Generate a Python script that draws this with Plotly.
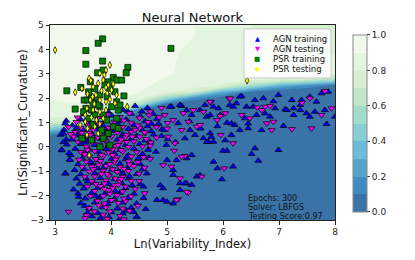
import plotly.graph_objects as go

# ---------------- data ----------------
title = "Neural Network"
x_label = "Ln(Variability_Index)"
y_label = "Ln(Significant_Curvature)"
info_lines = ["Epochs: 300", "Solver: LBFGS", "Testing Score:0.97"]
legend_names = ["AGN training", "AGN testing", "PSR training", "PSR testing"]

# decision surface (probability of PSR) read on a coarse grid
grid_x = [2.9, 3.25, 3.5, 4.0, 4.5, 5.0, 5.5, 6.0, 6.5, 7.0, 7.5, 8.0]
grid_y = [-3, 0, 0.25, 0.5, 0.75, 1.0, 1.25, 1.5, 1.75, 2.0, 2.25, 2.5, 2.75, 3.0, 3.5, 4.0, 4.5, 5.0]
grid_z = [
    [0,    0,    0,    0,    0,    0,    0,    0,    0,    0,    0,    0],
    [0,    0,    0,    0,    0,    0,    0,    0,    0,    0,    0,    0],
    [0.02, 0,    0,    0,    0,    0,    0,    0,    0,    0,    0,    0],
    [0.10, 0.05, 0.02, 0,    0,    0,    0,    0,    0,    0,    0,    0],
    [0.45, 0.30, 0.10, 0,    0,    0,    0,    0,    0,    0,    0,    0],
    [0.72, 0.65, 0.50, 0.05, 0,    0,    0,    0,    0,    0,    0,    0],
    [0.82, 0.80, 0.78, 0.30, 0.02, 0,    0,    0,    0,    0,    0,    0],
    [0.85, 0.85, 0.85, 0.75, 0.10, 0,    0,    0,    0,    0,    0,    0],
    [0.88, 0.89, 0.90, 0.88, 0.60, 0.05, 0,    0,    0,    0,    0,    0],
    [0.91, 0.92, 0.93, 0.92, 0.85, 0.50, 0.15, 0.02, 0,    0,    0,    0],
    [0.93, 0.94, 0.94, 0.94, 0.90, 0.83, 0.70, 0.30, 0.08, 0,    0,    0],
    [0.94, 0.95, 0.95, 0.95, 0.92, 0.87, 0.84, 0.78, 0.55, 0.30, 0.15, 0.05],
    [0.95, 0.96, 0.96, 0.96, 0.93, 0.89, 0.86, 0.84, 0.82, 0.78, 0.70, 0.55],
    [0.96, 0.96, 0.96, 0.96, 0.94, 0.91, 0.87, 0.85, 0.84, 0.83, 0.82, 0.80],
    [0.97, 0.97, 0.97, 0.96, 0.94, 0.91, 0.88, 0.85, 0.84, 0.83, 0.82, 0.81],
    [0.97, 0.97, 0.97, 0.96, 0.94, 0.91, 0.89, 0.85, 0.83, 0.82, 0.80, 0.79],
    [0.97, 0.97, 0.97, 0.96, 0.94, 0.92, 0.90, 0.84, 0.82, 0.79, 0.78, 0.77],
    [0.97, 0.97, 0.97, 0.96, 0.95, 0.92, 0.90, 0.83, 0.80, 0.77, 0.76, 0.75],
]

band_colors = ["#3973a8", "#3f8dc0", "#55a3cb", "#6cbcd9", "#87ced5",
               "#a4dccb", "#bfe6c6", "#d6efd1", "#e3f4df", "#f1f9ec"]

agn_train = [
    (3.52,1.33),(4.02,1.28),(4.36,1.36),(4.52,1.25),(4.22,1.51),(4.43,1.68),
    (3.20,1.07),(3.46,1.12),(3.91,1.08),(4.27,1.13),(4.61,1.05),(4.82,1.15),
    (3.31,0.88),(3.62,0.93),(3.86,0.86),(4.12,0.92),(4.41,0.89),(4.72,0.95),
    (3.14,0.58),(3.16,0.70),(3.50,0.68),(3.76,0.72),(4.06,0.66),(4.31,0.74),(4.56,0.69),(4.91,0.72),
    (3.10,0.50),(3.41,0.47),(3.66,0.53),(3.96,0.49),(4.21,0.52),(4.46,0.45),(4.76,0.51),
    (3.30,0.30),(3.56,0.27),(3.84,0.33),(4.11,0.29),(4.36,0.31),(4.61,0.26),(5.01,0.31),
    (3.21,0.10),(3.46,0.12),(3.71,0.08),(3.96,0.11),(4.26,0.07),(4.51,0.12),
    (3.12,-0.12),(3.36,-0.08),(3.61,-0.11),(3.91,-0.09),(4.16,-0.13),(4.41,-0.07),(4.66,-0.12),
    (3.28,-0.33),(3.54,-0.28),(3.81,-0.31),(4.06,-0.27),(4.31,-0.34),(4.56,-0.29),
    (3.26,-0.52),(3.49,-0.47),(3.76,-0.53),(4.01,-0.49),(4.26,-0.51),(4.49,-0.46),
    (3.41,-0.71),(3.66,-0.68),(3.91,-0.73),(4.16,-0.69),(4.39,-0.72),
    (3.52,-0.91),(3.76,-0.88),(4.02,-0.93),(4.29,-0.87),(4.56,-0.92),
    (3.19,-1.09),(3.46,-1.12),(3.71,-1.08),(3.96,-1.13),(4.21,-1.07),(4.46,-1.11),
    (3.56,-1.31),(3.81,-1.28),(4.06,-1.33),(4.31,-1.29),
    (3.44,-1.51),(3.69,-1.47),(3.96,-1.52),(4.19,-1.48),(4.52,-1.53),
    (3.51,-1.71),(3.76,-1.68),(4.01,-1.73),(4.26,-1.69),
    (3.41,-1.91),(3.66,-1.88),(3.89,-1.93),(4.16,-1.89),(4.41,-1.92),
    (3.54,-2.12),(3.79,-2.08),(4.06,-2.13),(4.31,-2.09),
    (3.46,-2.31),(3.71,-2.28),(3.94,-2.33),(4.21,-2.29),(4.46,-2.32),
    (3.61,-2.51),(3.86,-2.48),(4.11,-2.53),(4.36,-2.49),
    (3.76,-2.71),(4.01,-2.68),(4.21,-2.73),(4.40,-2.66),
    (3.81,-2.92),(3.96,-2.88),(4.16,-2.94),(4.46,-2.87),
    (3.58,1.18),(3.83,1.22),(4.13,1.05),(3.38,0.78),(3.93,0.68),(4.18,0.40),(3.53,0.18),
    (3.78,-0.20),(4.28,-0.40),(3.63,-0.62),(3.88,-0.82),(4.13,-1.00),(3.58,-1.42),
    (3.83,-1.62),(4.08,-1.82),(3.73,-2.02),(3.98,-2.22),(3.53,-2.42),(4.28,-2.62),
    (3.66,-2.85),(4.33,-1.20),(4.38,-1.58),(3.38,-1.30),(3.33,-1.75),(3.35,-0.95),
    (3.42,-2.05),(3.58,-2.70),(4.58,-2.10),(4.62,-2.55),(4.52,-0.70),(4.68,-0.45),
    (4.72,0.65),(4.55,1.45),(4.30,1.45),(4.65,1.60),(3.70,1.40),(3.95,1.45),(3.25,-0.25),
    (3.20,0.30),(3.15,0.20),
    (3.18,0.96),(3.15,0.55),(3.12,-0.14),(3.18,-1.09),(3.27,-0.54),(3.36,0.61),
    (5.08,1.65),(5.26,1.68),(5.44,1.31),(5.59,1.51),(5.71,1.24),(5.20,0.97),(5.41,0.69),
    (4.96,0.69),(5.32,0.35),(5.50,0.49),(5.77,0.56),(4.99,0.08),(5.83,1.65),(5.77,1.31),
    (5.23,1.72),(5.05,1.65),(5.68,1.72),(5.92,1.58),(6.12,1.72),(6.24,1.79),(5.83,0.21),
    (5.74,0.21),(5.65,0.35),(6.15,0.49),(6.30,0.69),(6.45,0.76),(6.21,0.90),(6.07,0.99),
    (4.75,1.35),(4.85,0.95),(4.65,0.85),(4.90,0.45),(4.70,0.20),(5.15,0.20),(4.80,-0.20),
    (5.40,1.05),(5.60,0.75),(5.90,0.85),(5.35,1.50),
    (6.42,1.65),(6.54,1.65),(6.93,1.58),(7.11,1.54),(7.26,1.58),(7.38,1.72),(6.33,2.09),
    (6.72,1.99),(6.99,2.13),(7.76,2.20),(7.67,1.85),(7.49,1.38),(7.85,0.94),(7.08,0.86),
    (6.69,0.69),(7.88,2.26),(7.55,2.06),(7.40,1.92),(7.82,1.51),(7.64,1.44),(8.00,1.24),
    (7.23,1.92),(6.90,1.87),(6.57,1.92),(6.30,2.06),(6.18,1.65),(5.95,1.31),
    (6.39,1.17),(6.45,0.96),(6.15,0.96),(6.84,1.24),(7.38,1.51),(7.14,1.51),(7.26,1.31),
    (7.55,1.24),(6.60,1.31),(6.75,1.37),
    (6.57,-0.06),(6.99,-0.13),(6.51,-0.29),(6.63,-0.57),(6.18,-0.81),(5.83,-0.61),
    (5.90,-0.88),(6.00,-0.16),(6.07,-0.16),(5.53,-1.22),(5.98,-1.33),(5.44,-0.33),
    (5.35,-0.47),(5.17,-0.54),(5.59,-1.16),(5.00,-0.54),(5.11,-0.95),(5.35,-1.50),
    (5.23,-1.77),(5.11,-2.32),(4.93,-2.18),(4.82,-2.18),(4.64,-1.09),(4.58,-1.63),
    (4.46,-2.87),(4.40,-2.66),(4.88,-1.57),(5.79,0.41),(5.71,0.20),(6.04,0.27),
    (5.11,-1.15),(4.93,-1.70),(5.23,-1.49),(5.32,-1.49),(5.44,-1.56),(5.00,-2.25),
]

agn_test = [
    (3.40,1.21),(3.76,1.18),(4.16,1.23),(4.51,1.19),(4.86,1.22),
    (3.56,1.01),(3.81,0.98),(4.06,1.03),(4.36,0.99),(4.66,1.02),(5.01,0.98),
    (3.24,0.81),(3.46,0.78),(3.71,0.83),(3.96,0.79),(4.21,0.82),(4.51,0.78),(4.81,0.81),
    (3.36,0.61),(3.61,0.58),(3.86,0.63),(4.11,0.59),(4.36,0.62),(4.61,0.57),
    (3.51,0.41),(3.76,0.38),(4.01,0.43),(4.26,0.39),(4.51,0.42),(4.81,0.38),
    (3.41,0.21),(3.66,0.18),(3.91,0.23),(4.16,0.19),(4.41,0.22),(4.71,0.18),
    (3.56,0.01),(3.81,-0.02),(4.06,0.03),(4.31,-0.01),(4.56,0.02),
    (3.46,-0.21),(3.71,-0.18),(3.96,-0.23),(4.21,-0.19),(4.46,-0.22),
    (3.61,-0.41),(3.86,-0.38),(4.11,-0.43),(4.36,-0.39),
    (3.56,-0.61),(3.81,-0.58),(4.06,-0.63),(4.31,-0.59),
    (3.66,-0.81),(3.91,-0.78),(4.16,-0.83),(4.41,-0.79),
    (3.61,-1.01),(3.86,-0.98),(4.11,-1.03),(4.31,-0.99),
    (3.71,-1.21),(3.96,-1.18),(4.21,-1.23),
    (3.66,-1.41),(3.91,-1.38),(4.16,-1.43),(4.36,-1.39),
    (3.81,-1.61),(4.06,-1.58),(4.26,-1.63),
    (3.71,-1.81),(3.96,-1.78),(4.21,-1.83),
    (3.86,-2.01),(4.11,-1.98),(4.36,-2.03),
    (3.76,-2.21),(4.01,-2.18),(4.26,-2.23),
    (3.61,-2.51),(3.91,-2.48),(4.21,-2.53),
    (3.56,-2.81),(3.86,-2.78),(4.16,-2.83),
    (3.24,-2.66),(3.54,-2.93),
    (3.68,0.70),(3.93,0.50),(4.18,0.30),(3.78,0.10),(4.03,-0.10),(3.73,-0.50),(3.98,-0.70),
    (4.23,-0.90),(3.83,-1.10),(4.08,-1.30),(3.53,-0.30),(4.28,0.50),(4.43,0.70),(3.58,0.88),
    (3.33,0.42),(3.88,-1.50),(4.03,-1.70),(3.78,-2.40),(4.13,-2.30),(3.98,-2.65),
    (3.63,0.48),(3.88,0.28),(4.13,0.08),(3.58,-0.12),(3.83,-0.32),(4.08,-0.52),(4.33,-0.72),
    (3.68,-0.92),(3.93,-1.12),(4.18,-1.32),(3.73,-1.52),(3.98,-1.92),(4.23,-2.12),
    (3.88,-2.32),(4.33,-2.62),(3.48,0.58),(3.73,0.98),(4.23,1.08),(4.48,0.88),(4.38,0.42),
    (4.63,0.32),(4.58,-0.42),(4.48,-0.62),(3.43,-0.52),(3.48,-0.82),(3.53,-1.22),
    (3.58,-1.62),(3.63,-2.02),(4.43,-1.72),(4.48,-2.42),(3.93,1.33),(4.33,1.38),(4.68,1.30),
    (3.38,1.02),(3.28,0.52),(3.98,-0.02),(3.68,0.30),(4.28,0.20),(4.03,-0.33),(4.18,-0.13),
    (3.78,-0.73),(4.03,-0.92),(3.88,-1.72),(4.13,-1.55),(3.93,-2.95),(4.23,-2.98),
    (3.70,-2.65),(4.50,-1.10),(4.60,-0.85),(4.70,0.05),
    (4.96,1.31),(5.11,1.10),(5.29,1.38),(5.38,1.03),(5.53,0.83),(5.47,1.51),(5.65,1.44),
    (5.26,0.69),(5.02,0.42),(5.59,0.90),(5.89,1.10),(5.14,0.15),(4.70,1.45),(4.90,1.60),
    (4.60,0.60),(5.00,0.75),(5.78,1.83),(6.11,1.98),(6.04,1.38),(6.18,0.15),(5.96,0.49),
    (5.95,1.27),(6.33,1.31),(6.48,1.17),(6.61,1.62),(6.69,1.51),(6.75,1.65),(6.84,1.68),
    (6.78,0.97),(6.87,0.69),(6.90,1.03),(7.23,0.73),(7.58,0.76),(7.76,1.31),(7.94,1.58),
    (7.82,2.29),(7.55,1.99),(7.41,1.81),(6.13,1.99),(5.77,1.85),
    (6.02,-0.88),(5.62,-1.22),(5.08,-0.81),(5.23,-1.29),(5.38,-1.88),(5.20,-2.15),
    (5.13,-0.16),(5.32,-0.37),(5.35,-1.84),(5.17,-2.18),(4.93,-0.75),(5.26,-0.40),
    (4.70,-0.50),(4.60,-1.90),(4.50,-1.40),
]

psr_train = [
    (3.85,4.43),(3.77,4.25),(3.55,3.95),(3.55,3.39),(3.46,2.44),(3.21,2.30),(3.36,1.55),
    (5.07,4.04),(3.85,3.52),(4.30,3.26),(4.27,3.04),(3.76,3.04),(3.86,3.15),(4.04,2.85),
    (4.10,2.74),(3.95,2.67),(4.19,2.74),(3.63,2.67),(3.60,2.26),(3.71,2.40),(3.80,2.13),
    (3.52,1.92),(3.58,1.92),(3.65,1.99),(3.74,1.85),(3.55,1.58),(3.65,1.51),(3.80,1.65),
    (3.93,2.06),(4.10,1.85),(4.07,2.26),(4.23,2.09),(4.13,1.51),(3.86,1.31),(3.71,1.31),
    (3.60,1.17),(3.92,1.10),(4.10,1.17),(4.04,0.83),(3.83,0.69),(3.68,0.90),(3.95,0.55),
    (3.86,0.35),(3.48,0.35),(3.65,0.28),(3.80,0.00),(3.98,0.07),(4.13,0.76),(3.77,1.72),
    (3.68,1.79),(4.01,1.65),(4.16,1.72),(3.51,1.44),(3.98,2.40),(3.89,2.54),
]

psr_test = [
    (3.00,3.97),(6.43,2.72),(3.98,3.36),(3.91,3.15),(3.88,2.95),(3.80,3.02),(3.61,2.81),
    (3.64,2.72),(3.36,2.24),(3.48,2.40),(3.68,2.47),(3.77,2.61),(3.86,2.74),(3.91,2.44),
    (3.95,2.54),(4.04,2.58),(4.01,2.33),(4.10,2.13),(3.93,2.20),(3.83,2.30),(3.73,2.13),
    (3.67,2.06),(3.58,2.17),(3.63,1.92),(3.70,1.76),(3.80,1.92),(3.91,1.85),(3.98,1.95),
    (4.07,1.79),(4.29,1.65),(3.57,1.58),(3.68,1.51),(3.80,1.44),(3.91,1.51),(3.54,1.31),
    (3.65,1.21),(3.74,1.10),(3.86,1.17),(3.54,1.03),(3.71,0.83),(3.80,0.94),(3.57,0.49),
    (3.77,0.55),(3.61,-0.34),(3.45,0.90),(3.58,0.76),
]

# ---------------- figure ----------------
FONT = "DejaVu Sans"
# the page body has an 8 px margin, so the figure is 8 px smaller than the window
W, H, OFF = 407, 252, 8
fig = go.Figure()

colorscale = []
for i, c in enumerate(band_colors):
    colorscale.append([i / 10, c])
    colorscale.append([(i + 1) / 10, c])

fig.add_trace(go.Contour(
    x=grid_x, y=grid_y, z=grid_z,
    zmin=0, zmax=1,
    contours=dict(start=0.1, end=0.9, size=0.1, coloring="fill"),
    colorscale=colorscale,
    line=dict(width=0, smoothing=0),
    showlegend=False,
    hoverinfo="skip",
    colorbar=dict(
        x=1.063, xanchor="left", xpad=0, y=0.495, yanchor="middle", ypad=0,
        len=0.908, lenmode="fraction", thickness=14,
        outlinecolor="#888888", outlinewidth=1,
        tickvals=[0, 0.2, 0.4, 0.6, 0.8, 1.0], ticktext=["0.0", "0.2", "0.4", "0.6", "0.8", "1.0"],
        ticks="outside", ticklen=3, tickcolor="#333333",
        tickfont=dict(family=FONT, size=9, color="#222222"),
    ),
))

series = [
    (agn_train, "triangle-up", "blue", 6),
    (agn_test, "triangle-down", "magenta", 6),
    (psr_train, "square", "green", 6),
    (psr_test, "diamond-tall", "yellow", 5),
]
for (pts, sym, col, sz), name in zip(series, legend_names):
    fig.add_trace(go.Scatter(
        x=[p[0] for p in pts], y=[p[1] for p in pts], mode="markers", name=name,
        marker=dict(symbol=sym, color=col, size=sz, line=dict(color="black", width=0.7)),
        showlegend=False,
    ))

# compact matplotlib-style legend box (page pixel -> plot-domain fraction)
def px2x(px):
    return (px - 50) / 285

def py2y(py):
    return 1 - (py - 25) / 195

fig.add_shape(type="rect", xref="x domain", yref="y domain",
              x0=px2x(244), x1=px2x(331), y0=py2y(78), y1=py2y(29),
              fillcolor="rgba(255,255,255,0.8)", line=dict(color="#cccccc", width=1))
legend_glyphs = ["▲", "▼", "■", "◆"]
legend_colors = ["blue", "magenta", "green", "yellow"]
legend_rows = [39, 49, 59, 69.3]
for name, g, c, r in zip(legend_names, legend_glyphs, legend_colors, legend_rows):
    fig.add_annotation(xref="x domain", yref="y domain", x=px2x(257), y=py2y(r),
                       text=g, showarrow=False, xanchor="center", yanchor="middle",
                       font=dict(family=FONT, size=6.5, color=c))
    fig.add_annotation(xref="x domain", yref="y domain", x=px2x(271), y=py2y(r),
                       text=name, showarrow=False, xanchor="left", yanchor="middle",
                       font=dict(family=FONT, size=8.5, color="#111111"))

info_y = [-2.12, -2.49, -2.86]
for t, yy in zip(info_lines, info_y):
    fig.add_annotation(x=6.43, y=yy, xref="x", yref="y", text=t, showarrow=False,
                       xanchor="left", yanchor="middle", borderpad=0,
                       font=dict(family=FONT, size=8, color="#111111"))

axis_common = dict(
    showline=True, linecolor="#222222", linewidth=1, mirror=True,
    ticks="outside", ticklen=3.5, tickcolor="#222222", showgrid=False, zeroline=False,
    tickfont=dict(family=FONT, size=9, color="#222222"),
)
fig.update_xaxes(range=[2.91, 8.0], tickvals=[3, 4, 5, 6, 7, 8],
                 title=dict(text=x_label, standoff=2, font=dict(family=FONT, size=11.5, color="#111111")),
                 **axis_common)
fig.update_yaxes(range=[-3, 5], tickvals=[-3, -2, -1, 0, 1, 2, 3, 4, 5],
                 title=dict(text=y_label, standoff=0, font=dict(family=FONT, size=11.5, color="#111111")),
                 **axis_common)

fig.update_layout(
    width=W, height=H,
    margin=dict(l=50 - OFF, r=W - (335 - OFF), t=25 - OFF, b=H - (220 - OFF)),
    paper_bgcolor="white", plot_bgcolor="white",
    title=dict(text=title, x=0.5, xref="paper", y=1 - (17 - OFF) / H, yanchor="middle",
               font=dict(family=FONT, size=13, color="#111111")),
    showlegend=False,
    font=dict(family=FONT),
)

fig.write_html("out.html")
